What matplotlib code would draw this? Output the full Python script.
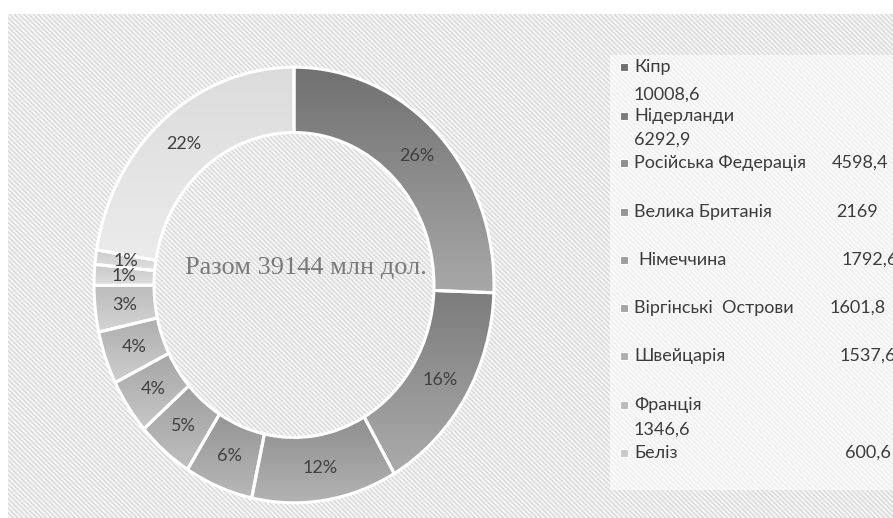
import numpy as np
import matplotlib.pyplot as plt
from matplotlib.patches import Rectangle
from matplotlib.colors import LinearSegmentedColormap

# data (млн дол.)
countries = ['Кіпр', 'Нідерланди', 'Російська Федерація', 'Велика Британія',
             'Німеччина', 'Віргінські  Острови', 'Швейцарія', 'Франція', 'Беліз']
country_vals = [10008.6, 6292.9, 4598.4, 2169, 1792.6, 1601.8, 1537.6, 1346.6, 600.6]
value_text = ['10008,6', '6292,9', '4598,4', '2169', '1792,6', '1601,8', '1537,6', '1346,6', '600,6']
# two more slices with no legend entry
extra_vals = [420.0, 8775.9]
pct_labels = ['26%', '16%', '12%', '6%', '5%', '4%', '4%', '3%', '1%', '1%', '22%']
total_text = 'Разом 39144 млн дол.'

slice_vals = country_vals + extra_vals

W, H = 893, 518
fig = plt.figure(figsize=(W / 100, H / 100), dpi=100)
fig.patch.set_facecolor('white')
plt.rcParams['hatch.linewidth'] = 1.0

def fx(px):
    return px / W

def fy(py):
    return 1 - py / H

# hatched chart area
fig.patches.append(Rectangle((fx(8), 0), fx(W - 8), fy(14), transform=fig.transFigure,
                             facecolor='#f5f5f5', edgecolor='#d9d9d9', hatch='\\' * 7,
                             linewidth=0, zorder=-2))
# lighter legend panel
fig.patches.append(Rectangle((fx(610), fy(490)), fx(W - 610), fy(55) - fy(490),
                             transform=fig.transFigure, facecolor='white', alpha=0.6,
                             linewidth=0, zorder=-1))

# donut (slightly taller than wide, as in the reference)
ax = fig.add_axes([fx(92), fy(505), fx(496) - fx(92), fy(65) - fy(505)])
ax.patch.set_alpha(0)
wedges, _ = ax.pie(slice_vals, startangle=90, counterclock=False, radius=1,
                   wedgeprops=dict(width=0.3, edgecolor='white', linewidth=2.2))
ax.set_aspect('auto')

grad = [('#717171', '#a8a8a8'), ('#7c7c7c', '#ababab'), ('#8e8e8e', '#b3b3b3'),
        ('#959595', '#b8b8b8'), ('#9e9e9e', '#c0c0c0'), ('#a5a5a5', '#c8c8c8'),
        ('#aeaeae', '#cfcfcf'), ('#bcbcbc', '#d4d4d4'), ('#c8c8c8', '#dedede'),
        ('#cccccc', '#e0e0e0'), ('#dcdcdc', '#ebebeb')]

for w, (ctop, cbot), lab in zip(wedges, grad, pct_labels):
    ext = w.get_path().get_extents()
    cm = LinearSegmentedColormap.from_list('g', [cbot, ctop])
    im = ax.imshow(np.linspace(0, 1, 64).reshape(-1, 1), cmap=cm, origin='lower',
                   extent=[ext.x0, ext.x1, ext.y0, ext.y1], aspect='auto', zorder=1,
                   interpolation='bilinear')
    im.set_clip_path(w)
    w.set_facecolor('none')
    w.set_zorder(2)
    ang = np.deg2rad((w.theta1 + w.theta2) / 2)
    ax.text(0.85 * np.cos(ang), 0.85 * np.sin(ang), lab, ha='center', va='center',
            fontsize=13, color='#404040', family='Lato', zorder=3)

ax.set_aspect('auto')
ax.set_xlim(-1.01, 1.01)
ax.set_ylim(-1.01, 1.01)
ax.axis('off')

ax.text(0.06, 0.08, total_text, ha='center', va='center', fontsize=19,
        color='#7a7a7a', family='Liberation Serif', zorder=3)

# legend, laid out as in the reference
name_y = [67, 116, 163, 212, 260, 308, 356, 405, 453]
val_pos = [(634, 95), (634, 140), (832, 163), (836, 212), (842, 260),
           (830, 308), (840, 356), (634, 430), (845, 453)]
name_x = [634, 634, 634, 634, 638, 634, 634, 634, 634]

for i, name in enumerate(countries):
    fig.patches.append(Rectangle((fx(620), fy(name_y[i] + 4)), fx(8), fy(0) - fy(8),
                                 transform=fig.transFigure, facecolor=grad[i][0],
                                 edgecolor='white', linewidth=0.8, zorder=2))
    fig.text(fx(name_x[i]), fy(name_y[i]), name, ha='left', va='center', fontsize=13,
             color='#3c3c3c', family='Lato')
    vx, vy = val_pos[i]
    fig.text(fx(vx), fy(vy), value_text[i], ha='left', va='center', fontsize=13,
             color='#3c3c3c', family='Lato')

fig.savefig('out.png', dpi=100)
